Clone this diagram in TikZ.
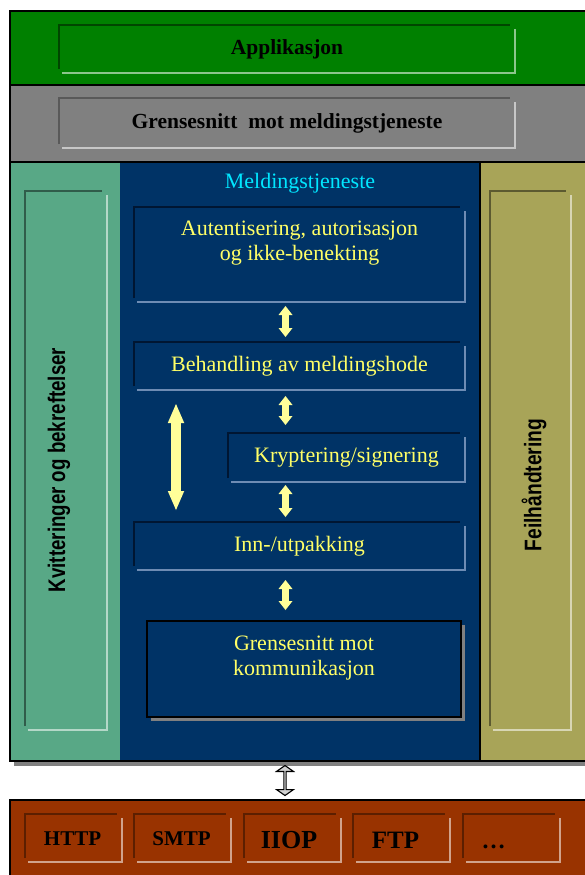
\documentclass[tikz,border=0pt]{standalone}
\usepackage{fontspec}
\setmainfont{Liberation Serif}
\newfontfamily\arialfont{Liberation Sans}
\usepackage{graphicx}
\definecolor{AppGreen}{RGB}{0, 128, 0}
\definecolor{IfGray}{RGB}{128, 128, 128}
\definecolor{KvTeal}{RGB}{88, 168, 134}
\definecolor{MsBlue}{RGB}{0, 51, 102}
\definecolor{MsDark}{RGB}{0, 22, 50}
\definecolor{MsLight}{RGB}{110, 140, 180}
\definecolor{FhOlive}{RGB}{168, 164, 88}
\definecolor{ProtoBrown}{RGB}{153, 51, 0}
\definecolor{MsYellow}{RGB}{255, 255, 102}
\definecolor{ArrowYellow}{RGB}{255, 255, 153}
\definecolor{MsCyan}{RGB}{0, 230, 255}
\usetikzlibrary{arrows.meta, positioning, shapes.arrows, shadows, calc}
% sunken frame: dark top/left, light right/bottom
\newcommand{\bevelbox}[3]{%
  \draw[#2, line width=2pt] ([yshift=4pt]#1.south west) |- ([xshift=-5pt]#1.north east);
  \draw[#3, line width=2pt] ([yshift=-4pt]#1.north east) |- ([xshift=3pt]#1.south west);}

\begin{document}
\begin{tikzpicture}[x=1pt, y=-1pt,
  every node/.style={inner sep=0pt, outer sep=0pt},
  band/.style={anchor=north west, minimum width=590pt, draw=black, line width=1.5pt},
  bandtext/.style={font=\bfseries\fontsize{21.5}{25}\selectfont, text=black},
  sidetext/.style={rotate=90, font=\arialfont\bfseries\fontsize{24}{28}\selectfont},
  mstext/.style={font=\fontsize{22}{25}\selectfont, text=MsYellow, align=center},
  msbox/.style={minimum width=331pt, minimum height=48pt},
  protobox/.style={minimum width=97pt, minimum height=48pt},
  prototext/.style={text height=15pt, text depth=0pt},
  yarrow/.style={draw=ArrowYellow, line width=7.3pt,
    {Triangle[width=14pt, length=9pt, line width=0pt]}-{Triangle[width=14pt, length=9pt, line width=0pt]}},
  bigarrow/.style={draw=ArrowYellow, line width=9.3pt,
    {Triangle[width=16.5pt, length=19pt, line width=0pt]}-{Triangle[width=16.5pt, length=19pt, line width=0pt]}},
  linkarrow/.style={double arrow, rotate=90, draw=black, line width=1.1pt, fill=black!18,
    minimum height=30pt, minimum width=17pt, double arrow head extend=3.5pt, double arrow tip angle=110}]
\useasboundingbox (0,0) rectangle (585,875);

% layers
\fill[IfGray] (14,761) rectangle (600,766);
\node[band, fill=AppGreen, minimum height=74pt] (appband) at (10,11) {};
\node[band, fill=IfGray, minimum height=77pt] (ifband) at (10,85) {};
\node[band, draw=none, fill=KvTeal, minimum width=110pt, minimum height=599pt] (kvcol) at (10,162) {};
\node[band, draw=none, fill=MsBlue, minimum width=360pt, minimum height=599pt] (mscol) at (120,162) {};
\node[band, fill=FhOlive, minimum width=120pt, minimum height=599pt] (fhcol) at (480,162) {};
\node[band, fill=ProtoBrown, minimum height=90pt] (protoband) at (10,800) {};
\draw[black, line width=1.5pt] (fhcol.north east) -- (kvcol.north west) |- (fhcol.south east);

% top layers
\node[bandtext, minimum width=456pt, minimum height=48pt] (app) at (287,49) {Applikasjon};
\bevelbox{app}{AppGreen!55!black}{AppGreen!45!white}
\node[bandtext, minimum width=456pt, minimum height=50pt] (gmm) at (287,123) {Grensesnitt\ \ mot meldingstjeneste};
\bevelbox{gmm}{black!65}{black!22}

% side columns
\node[minimum width=82pt, minimum height=539pt] (kvinset) at (66,460.5) {};
\bevelbox{kvinset}{KvTeal!55!black}{KvTeal!45!white}
\node[sidetext] (kvtext) at (59,470) {\scalebox{0.78}[1]{Kvitteringer og bekreftelser}};
\node[minimum width=81pt, minimum height=539pt] (fhinset) at (530.5,460.5) {};
\bevelbox{fhinset}{FhOlive!55!black}{FhOlive!45!white}
\node[sidetext] (fhtext) at (534,485) {\scalebox{0.8}[1]{Feilhåndtering}};

% meldingstjeneste
\node[mstext, text=MsCyan] (mstitle) at (300,183) {Meldingstjeneste};
\node[msbox, minimum height=95pt] (auth) at (299.5,254.5) {};
\node[mstext, anchor=north] (authtext) at ([yshift=-13.5pt]auth.north) {Autentisering, autorisasjon\\og ikke-benekting};
\node[msbox, mstext] (beh) at (299.5,366) {Behandling av meldingshode};
\node[msbox, mstext, minimum width=237pt, minimum height=49pt] (kryp) at (346.5,457.5) {Kryptering/signering};
\node[msbox, mstext] (inn) at (299.5,546) {Inn-/utpakking};
\foreach \b in {auth, beh, kryp, inn} {\bevelbox{\b}{MsDark}{MsLight}}
\node[minimum width=314pt, minimum height=96pt, draw=black, line width=2pt, fill=MsBlue,
  drop shadow={shadow xshift=4pt, shadow yshift=-4pt, fill=IfGray, opacity=1}] (komm) at (304,669) {};
\node[mstext, anchor=north] (kommtext) at ([yshift=-14.5pt]komm.north) {Grensesnitt mot\\kommunikasjon};

\draw[yarrow, shorten <=4pt, shorten >=5pt] ([xshift=-14pt]auth.south) -- ([xshift=-14pt]beh.north);
\draw[yarrow, shorten <=6pt, shorten >=8pt] ([xshift=-14pt]beh.south) -- ([xshift=-14pt]beh.south |- kryp.north);
\draw[yarrow, shorten <=3pt, shorten >=5pt] ([xshift=-14pt]inn.north |- kryp.south) -- ([xshift=-14pt]inn.north);
\draw[yarrow, shorten <=10pt, shorten >=11pt] ([xshift=-14pt]inn.south) -- ([xshift=-14pt]inn.south |- komm.north);
\coordinate (cyctop) at (176,404);
\coordinate (cycbot) at (176,510);
\draw[bigarrow] (cyctop) -- (cycbot);

% link to protocols
\node[linkarrow] (link) at ($([xshift=-15pt]mscol.south)!0.5!([xshift=-15pt]mscol.south |- protoband.north)$) {};

% protocols
\foreach \name/\cx/\cy/\txt/\fs/\dx in {http/73.5/838/HTTP/21/-1, smtp/182.5/838/SMTP/21/-1,
    iiop/292/841/IIOP/26/-3, ftp/401.5/841/FTP/25/-6, more/511.5/841/{\dots}/24/-18} {
  \node[protobox] (\name) at (\cx,838) {};
  \bevelbox{\name}{ProtoBrown!60!black}{ProtoBrown!45!white}
  \node[prototext, font=\bfseries\fontsize{\fs}{\fs}\selectfont] (\name-lbl) at (\cx+\dx,\cy) {\txt};
}
\end{tikzpicture}
\end{document}
